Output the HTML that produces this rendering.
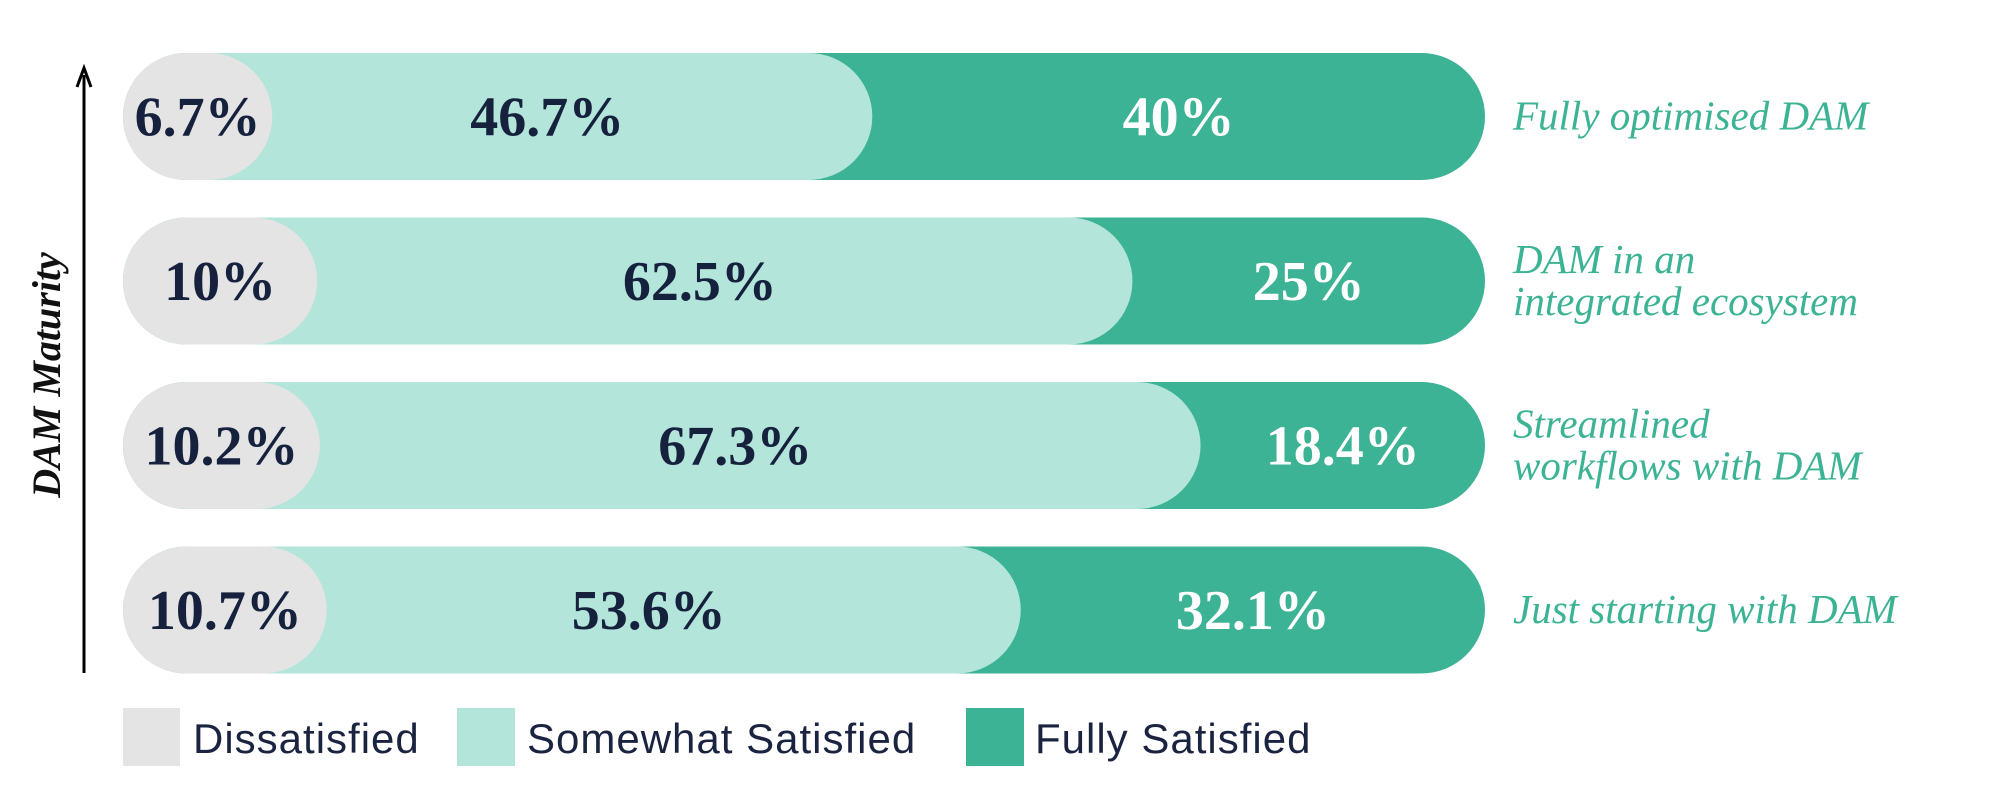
<!DOCTYPE html>
<html><head><meta charset="utf-8"><style>
body{margin:0;background:#fff;}
svg text{font-family:"Liberation Serif",serif;}
</style></head><body>
<svg width="1993" height="800" viewBox="0 0 1993 800">
<g id="bars"></g>
<line x1="84" y1="673" x2="84" y2="75" stroke="#000" stroke-width="3"/>
<path d="M77,87 L84,68 L91,87" fill="none" stroke="#000" stroke-width="3"/>
<text transform="translate(60,375) rotate(-90)" text-anchor="middle" font-size="40" font-style="italic" font-weight="bold" fill="#111">DAM Maturity</text>
<g>
<rect x="123" y="708" width="57" height="58" fill="#e4e4e4"/>
<text x="193" y="753" font-size="42" letter-spacing="1" fill="#1a2340" style="font-family:'Liberation Sans',sans-serif">Dissatisfied</text>
<rect x="457" y="708" width="58" height="58" fill="#b3e5da"/>
<text x="527" y="753" font-size="42" letter-spacing="1" fill="#1a2340" style="font-family:'Liberation Sans',sans-serif">Somewhat Satisfied</text>
<rect x="966" y="708" width="58" height="58" fill="#3cb394"/>
<text x="1035" y="753" font-size="42" letter-spacing="1" fill="#1a2340" style="font-family:'Liberation Sans',sans-serif">Fully Satisfied</text>
</g>
</svg>
<script>
const categories=[["Fully optimised DAM"],["DAM in an","integrated ecosystem"],["Streamlined","workflows with DAM"],["Just starting with DAM"]];
const dissatisfied=[6.7,10,10.2,10.7];
const somewhat=[46.7,62.5,67.3,53.6];
const fully=[40,25,18.4,32.1];
const labelsD=["6.7%","10%","10.2%","10.7%"];
const labelsS=["46.7%","62.5%","67.3%","53.6%"];
const labelsF=["40%","25%","18.4%","32.1%"];
const NS="http://www.w3.org/2000/svg";
const g=document.getElementById('bars');
const X0=123,X1=1485,W=X1-X0,BH=127,Y0=53,STEP=164.5,R=BH/2;
const xs=v=>X0+v/100*W;
function rect(x,y,w,fill,name){const r=document.createElementNS(NS,'rect');r.setAttribute('x',x);r.setAttribute('y',y);r.setAttribute('width',w);r.setAttribute('height',BH);r.setAttribute('rx',R);r.setAttribute('fill',fill);


g.appendChild(r);}
function txt(x,y,s,fill,size,name,extra){const t=document.createElementNS(NS,'text');t.setAttribute('x',x);t.setAttribute('y',y);t.setAttribute('fill',fill);t.setAttribute('font-size',size);t.textContent=s;
if(extra){for(const k in extra)t.setAttribute(k,extra[k]);}


g.appendChild(t);return t;}
categories.forEach((c,i)=>{
 const y=Y0+i*STEP;
 const dEnd=xs(dissatisfied[i])+58, sEnd=xs(dissatisfied[i]+somewhat[i])+22;
 rect(X0,y,W,'#3cb394','bar-fully-'+i);
 rect(X0,y,sEnd-X0,'#b3e5da','bar-somewhat-'+i);
 rect(X0,y,dEnd-X0,'#e4e4e4','bar-dissatisfied-'+i);
 const cy=y+BH/2+19;
 txt((X0+dEnd)/2,cy,labelsD[i],'#16213d',56,'value-dissatisfied-'+i,{'text-anchor':'middle','font-weight':'bold'});
 txt((dEnd+sEnd)/2-25,cy,labelsS[i],'#16213d',56,'value-somewhat-'+i,{'text-anchor':'middle','font-weight':'bold'});
 txt((sEnd+X1)/2,cy,labelsF[i],'#fff',56,'value-fully-'+i,{'text-anchor':'middle','font-weight':'bold'});
 const lh=42, top=y+BH/2-(c.length-1)*lh/2+13;
 c.forEach((line,j)=>txt(1513,top+j*lh,line,'#3cb394',41,'category-label-'+i,{'font-style':'italic'}));
});
</script>
</body></html>
